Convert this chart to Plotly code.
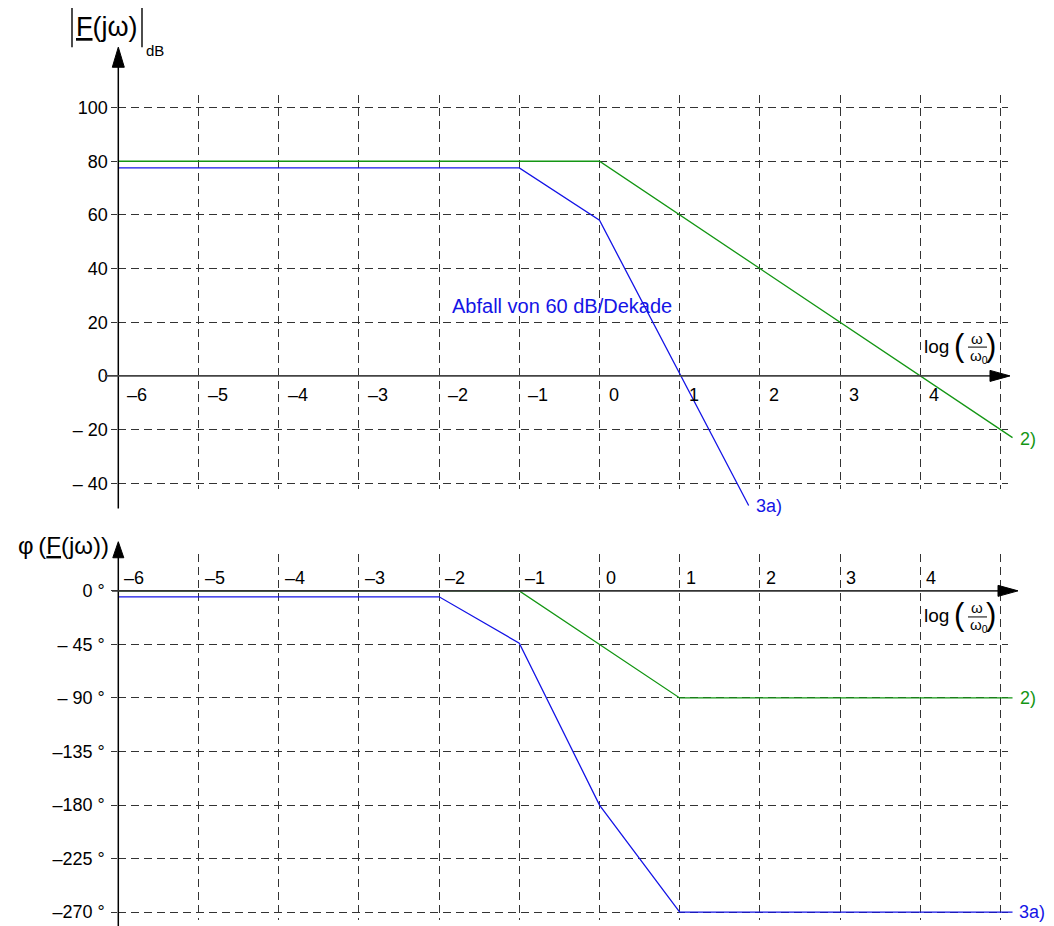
import plotly.graph_objects as go

# ---------------- data ----------------
DECADES = [-6, -5, -4, -3, -2, -1, 0, 1, 2, 3, 4, 5]
X_LABELS = ["\u20136", "\u20135", "\u20134", "\u20133", "\u20132", "\u20131", "0", "1", "2", "3", "4"]
X_LABEL_POS = [-6, -5, -4, -3, -2, -1, 0, 1, 2, 3, 4]

MAG_TICKS = [100, 80, 60, 40, 20, 0, -20, -40]
MAG_TICK_TEXT = ["100", "80", "60", "40", "20", "0", "\u2013 20", "\u2013 40"]
PHASE_TICKS = [0, -45, -90, -135, -180, -225, -270]
PHASE_TICK_TEXT = ["0 \u00b0", "\u2013 45 \u00b0", "\u2013 90 \u00b0", "\u2013135 \u00b0",
                   "\u2013180 \u00b0", "\u2013225 \u00b0", "\u2013270 \u00b0"]

mag2_x = [-6, 0, 5.15]
mag2_y = [80, 80, -23]
mag3a_x = [-6, -1, 0, 1.86]
mag3a_y = [77.5, 77.5, 58, -48.3]

ph2_x = [-6, -1, 1, 5.15]
ph2_y = [0, 0, -90, -90]
ph3a_x = [-6, -2, -1, 0, 1, 5.15]
ph3a_y = [-5, -5, -44, -180, -270, -270]

# ---------------- geometry (page pixels) ----------------
PAGE_W, PAGE_H = 1054, 926
OX, OY = 8, 8                     # default page body margin
KY = 0.9915                       # observed vertical scale of the capture
W, H = PAGE_W - 2 * OX, PAGE_H - OY
X0PX, XSC = 118.3, 80.2           # pixel of x=-6, px per decade
XR = [-6, 5.0875]                 # grid area
XD = [-6, 5.25]                   # data area (lines run slightly past 5)
T0PX, TSC = 374.7, 2.675          # top plot: pixel of 0 dB, px per dB
TR = [-42, 104.6]
B0PX, BSC = 589.0, 1.1863         # bottom plot: pixel of 0 deg, px per deg
BR = [-276.5, 31.2]

GREEN = "#149614"
BLUE = "#1414e6"
GRID = "#333333"
FONT = "Liberation Sans, Arial, sans-serif"


def xpx(v):
    return X0PX + XSC * (v - XR[0])


def tpx(v):
    return T0PX - TSC * v


def bpx(v):
    return B0PX - BSC * v


def P(x, y):
    return (x - OX) / W, 1 - (y / KY - OY) / H


def xdom(r):
    return [P(xpx(r[0]), 0)[0], P(xpx(r[1]), 0)[0]]


def ydom(top_px, bot_px):
    return [max(0.0, P(0, bot_px)[1]), min(1.0, P(0, top_px)[1])]


TD = [-(515 - T0PX) / TSC, (T0PX - 40) / TSC]     # data y-range top panel
BD = [-(915 - B0PX) / BSC, (B0PX - 540) / BSC]    # data y-range bottom panel

fig = go.Figure()
fig.add_trace(go.Scatter(x=mag2_x, y=mag2_y, mode="lines", line=dict(color=GREEN, width=1.3),
                         xaxis="x3", yaxis="y3", hoverinfo="skip"))
fig.add_trace(go.Scatter(x=mag3a_x, y=mag3a_y, mode="lines", line=dict(color=BLUE, width=1.3),
                         xaxis="x3", yaxis="y3", hoverinfo="skip"))
fig.add_trace(go.Scatter(x=ph2_x, y=ph2_y, mode="lines", line=dict(color=GREEN, width=1.3),
                         xaxis="x4", yaxis="y4", hoverinfo="skip"))
fig.add_trace(go.Scatter(x=ph3a_x, y=ph3a_y, mode="lines", line=dict(color=BLUE, width=1.3),
                         xaxis="x4", yaxis="y4", hoverinfo="skip"))

xcommon = dict(range=XR, domain=xdom(XR), tickvals=DECADES, showticklabels=False, ticks="",
               showgrid=True, gridcolor=GRID, gridwidth=1, griddash="8px,5px",
               zeroline=False, showline=False, fixedrange=True)
ycommon = dict(showgrid=True, gridcolor=GRID, gridwidth=1, griddash="8px,5px",
               zeroline=False, showline=False, ticks="outside", ticklen=6, tickcolor=GRID,
               tickwidth=1, tickfont=dict(family=FONT, size=18, color="black"), fixedrange=True)
hidden = dict(visible=False, showgrid=False, zeroline=False, fixedrange=True)

fig.update_layout(
    width=W, height=H, margin=dict(l=0, r=0, t=0, b=0),
    paper_bgcolor="white", plot_bgcolor="rgba(0,0,0,0)", showlegend=False,
    font=dict(family=FONT, size=18, color="black"),
    xaxis=dict(anchor="y", **xcommon),
    yaxis=dict(anchor="x", domain=ydom(tpx(TR[1]), tpx(TR[0])), range=TR, tickvals=MAG_TICKS,
               ticktext=MAG_TICK_TEXT, ticklabelstandoff=0, **ycommon),
    xaxis2=dict(anchor="y2", **xcommon),
    yaxis2=dict(anchor="x2", domain=ydom(bpx(BR[1]), bpx(BR[0])), range=BR, tickvals=PHASE_TICKS,
                ticktext=PHASE_TICK_TEXT, ticklabelstandoff=3, **ycommon),
    xaxis3=dict(anchor="y3", range=XD, domain=xdom(XD), **hidden),
    yaxis3=dict(anchor="x3", range=TD, domain=ydom(tpx(TD[1]), tpx(TD[0])), **hidden),
    xaxis4=dict(anchor="y4", range=XD, domain=xdom(XD), **hidden),
    yaxis4=dict(anchor="x4", range=BD, domain=ydom(bpx(BD[1]), bpx(BD[0])), **hidden),
)

shapes = []
ann = []


def line(x0, y0, x1, y1, color="black", width=1.5):
    a, b = P(x0, y0)
    c, d = P(x1, y1)
    shapes.append(dict(type="line", xref="paper", yref="paper", x0=a, y0=b, x1=c, y1=d,
                       line=dict(color=color, width=width)))


def tri(pts, color="black"):
    path = "M " + " L ".join("%.5f,%.5f" % P(x, y) for x, y in pts) + " Z"
    shapes.append(dict(type="path", xref="paper", yref="paper", path=path,
                       fillcolor=color, line=dict(color=color, width=1)))


ax_x = xpx(-6)
# top y axis with arrow
line(ax_x, 507, ax_x, 62)
tri([(ax_x, 47), (ax_x - 6, 67), (ax_x + 6, 67)])
# top x axis (0 dB) with arrow
line(105, tpx(0), 995, tpx(0), color="#444444", width=1.6)
tri([(1010, tpx(0)), (990, tpx(0) - 5.5), (990, tpx(0) + 5.5)])
# bottom y axis with arrow (runs to the bottom edge)
line(ax_x, 935, ax_x, 552)
tri([(ax_x, 540), (ax_x - 5.5, 556), (ax_x + 5.5, 556)])
# bottom x axis (0 deg) with arrow
line(112, bpx(0), 1003, bpx(0), color="#333333", width=1.6)
tri([(1018, bpx(0)), (998, bpx(0) - 5.5), (998, bpx(0) + 5.5)])

# x tick labels
for v, t in zip(X_LABEL_POS, X_LABELS):
    ann.append(dict(x=v, y=0, xref="x", yref="y", text=t, showarrow=False, xanchor="left",
                    yanchor="middle", xshift=7, yshift=-19, font=dict(size=18)))
    ann.append(dict(x=v, y=0, xref="x2", yref="y2", text=t, showarrow=False, xanchor="left",
                    yanchor="middle", xshift=4, yshift=13, font=dict(size=18)))

# series end labels
ann.append(dict(x=mag2_x[-1], y=mag2_y[-1], xref="x3", yref="y3", text="2)", showarrow=False,
                xanchor="left", yanchor="middle", xshift=5, yshift=-1, font=dict(size=18, color=GREEN)))
ann.append(dict(x=mag3a_x[-1], y=mag3a_y[-1], xref="x3", yref="y3", text="3a)", showarrow=False,
                xanchor="left", yanchor="middle", xshift=5, yshift=-1, font=dict(size=18, color=BLUE)))
ann.append(dict(x=ph2_x[-1], y=ph2_y[-1], xref="x4", yref="y4", text="2)", showarrow=False,
                xanchor="left", yanchor="middle", xshift=5, yshift=0, font=dict(size=18, color=GREEN)))
ann.append(dict(x=ph3a_x[-1], y=ph3a_y[-1], xref="x4", yref="y4", text="3a)", showarrow=False,
                xanchor="left", yanchor="middle", xshift=4, yshift=0, font=dict(size=18, color=BLUE)))

# slope annotation
a, b = P(562, 305)
ann.append(dict(x=a, y=b, xref="paper", yref="paper", text="Abfall von 60 dB/Dekade",
                showarrow=False, xanchor="center", yanchor="middle", font=dict(size=20, color=BLUE)))

# axis titles
line(72, 8, 72, 47, width=1.4)
line(142, 8, 142, 47, width=1.4)
a, b = P(107, 27)
ann.append(dict(x=a, y=b, xref="paper", yref="paper", text="<u>F</u>(j\u03c9)", showarrow=False,
                xanchor="center", yanchor="middle", font=dict(size=27)))
a, b = P(144, 50)
ann.append(dict(x=a, y=b, xref="paper", yref="paper", text="dB", showarrow=False,
                xanchor="left", yanchor="middle", font=dict(size=15)))
a, b = P(111, 544)
ann.append(dict(x=a, y=b, xref="paper", yref="paper", text="\u03c6\u2009(<u>F</u>(j\u03c9))", showarrow=False,
                xanchor="right", yanchor="middle", font=dict(size=24)))


# log(omega/omega0) labels
def loglabel(yc):
    a, b = P(936, yc)
    ann.append(dict(x=a, y=b, xref="paper", yref="paper", text="log", showarrow=False,
                    xanchor="center", yanchor="middle", font=dict(size=19)))
    for xc, t in ((959, "("), (991, ")")):
        a, b = P(xc, yc - 1)
        ann.append(dict(x=a, y=b, xref="paper", yref="paper", text=t, showarrow=False,
                        xanchor="center", yanchor="middle", font=dict(size=31)))
    a, b = P(977, yc - 8)
    ann.append(dict(x=a, y=b, xref="paper", yref="paper", text="\u03c9", showarrow=False,
                    xanchor="center", yanchor="middle", font=dict(size=15)))
    a, b = P(979, yc + 10)
    ann.append(dict(x=a, y=b, xref="paper", yref="paper", text="\u03c9<sub>0</sub>", showarrow=False,
                    xanchor="center", yanchor="middle", font=dict(size=15)))
    line(968, yc + 1, 987, yc + 1, width=1)


loglabel(345)
loglabel(614)

fig.update_layout(shapes=shapes, annotations=ann)
fig.write_html("out.html")
